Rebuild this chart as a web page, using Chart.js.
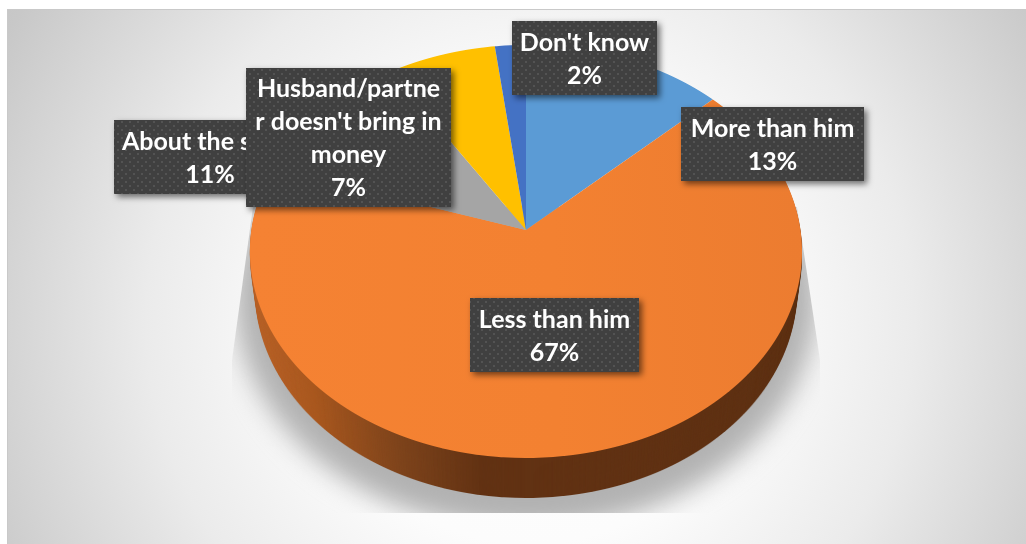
<!DOCTYPE html>
<html lang="en">
<head>
  <meta charset="UTF-8" />
  <title>Earnings compared with husband or partner</title>
  <script src="https://cdn.jsdelivr.net/npm/chart.js"></script>
  <style>
    html, body { margin: 0; padding: 0; background: #fff; }
    canvas { display: block; }
  </style>
</head>
<body>
  <canvas id="pieChart" width="1026" height="544"></canvas>

  <script>
    const categories = ["More than him", "Less than him", "About the same", "Husband/partner doesn't bring in money", "Don't know"];
    const percentages = [13, 67, 11, 7, 2];
    const sliceColors = ["#5b9bd5", "#ed7d31", "#a5a5a5", "#ffc000", "#4472c4"];

    // wrapped text of each label, broken the way the boxes break it
    const labelLines = [
      ["More than him"],
      ["Less than him"],
      ["About the same"],
      ["Husband/partne", "r doesn't bring in", "money"],
      ["Don't know"],
    ];
    // label boxes as [left, top, right, bottom], and the order they stack in
    const labelBoxes = [
      [681, 107, 864, 181],
      [470, 298, 639, 372],
      [114, 120, 306, 194],
      [246, 68, 451, 207],
      [512, 21, 657, 95],
    ];
    const labelOrder = [0, 1, 2, 3, 4];

    // tilted disc: where the apex and the rim end up on the page
    const apexX = 526, apexY = 230;
    const discTop = 185, discBottom = 228, discHalfWidth = 276, rimDepth = 40;
    const persp = (discTop - discBottom) / (discTop + discBottom);
    const perspA = discTop * (1 - persp);
    const perspR = discHalfWidth * Math.sqrt(1 - persp * persp);

    // draws the library's arcs row by row, each row with its own scale, to get the perspective
    function drawProjected(ctx, arcs, fills) {
      const r0 = arcs[0].outerRadius, cx0 = arcs[0].x, cy0 = arcs[0].y;
      for (let row = apexY - discTop - 1; row <= apexY + discBottom + 1; row++) {
        const rel = row + 0.5 - apexY;
        const y = rel / (perspA - persp * rel);
        if (Math.abs(y) > 1.01) continue;
        const denom = 1 + persp * y;
        const sx = perspR / denom / r0;
        const sy = perspA / (denom * denom) / r0;
        ctx.save();
        ctx.beginPath();
        ctx.rect(0, row, ctx.canvas.width, 1);
        ctx.clip();
        ctx.setTransform(sx, 0, 0, sy, apexX - sx * cx0, row + 0.5 - sy * (cy0 + y * r0));
        arcs.forEach((arc, i) => {
          const saved = arc.options;
          if (fills && fills[i]) arc.options = Object.assign(Object.create(saved), { backgroundColor: fills[i] });
          arc.draw(ctx);
          arc.options = saved;
        });
        ctx.restore();
      }
    }

    function sourceGradient(ctx, arc, stops) {
      const g = ctx.createLinearGradient(arc.x - arc.outerRadius, 0, arc.x + arc.outerRadius, 0);
      stops.forEach(([at, color]) => g.addColorStop(at, color));
      return g;
    }

    function drawPanel(chart) {
      const ctx = chart.ctx, w = chart.width, h = chart.height;
      ctx.save();
      ctx.fillStyle = "#fff";
      ctx.fillRect(0, 0, w, h);
      const g = ctx.createRadialGradient(530, 320, 0, 530, 320, 640);
      g.addColorStop(0, "#ffffff");
      g.addColorStop(0.35, "#fcfcfc");
      g.addColorStop(0.6, "#ebebeb");
      g.addColorStop(0.93, "#c8c8c8");
      g.addColorStop(1, "#c4c4c4");
      ctx.fillStyle = g;
      ctx.fillRect(7, 9, w - 7, h - 9);
      ctx.fillStyle = "#c9c9c9";
      ctx.fillRect(7, 9, w - 7, 1);
      ctx.fillRect(7, 9, 1, h - 9);
      ctx.restore();
    }

    function drawGroundShadow(ctx) {
      ctx.save();
      ctx.beginPath();
      ctx.moveTo(apexX - 273, 207);
      ctx.lineTo(apexX - 294, 360);
      ctx.lineTo(apexX - 294, 513);
      ctx.lineTo(apexX + 294, 513);
      ctx.lineTo(apexX + 294, 360);
      ctx.lineTo(apexX + 271, 207);
      ctx.closePath();
      ctx.clip();
      ctx.filter = "blur(13px)";
      ctx.fillStyle = "#b2b2b2";
      ctx.beginPath();
      ctx.ellipse(apexX, 298, 291, 232, 0, 0, Math.PI * 2);
      ctx.fill();
      ctx.restore();
    }

    function drawRim(chart, arcs) {
      const off = document.createElement("canvas");
      off.width = chart.width;
      off.height = chart.height;
      const offCtx = off.getContext("2d");
      const orange = arcs[1];
      const rimFill = sourceGradient(offCtx, orange, [
        [0, "#bb642a"], [0.14, "#a9581f"], [0.29, "#7e441c"], [0.43, "#623213"], [1, "#5e3113"],
      ]);
      drawProjected(offCtx, [orange], [rimFill]);
      const ctx = chart.ctx;
      for (let d = rimDepth; d >= 1; d--) {
        const s = 1 - d * 0.0005;
        ctx.drawImage(off, apexX - apexX * s, d, chart.width * s, chart.height);
      }
    }

    function dotPattern(ctx) {
      const cell = document.createElement("canvas");
      cell.width = 8;
      cell.height = 8;
      const c = cell.getContext("2d");
      c.fillStyle = "#404040";
      c.fillRect(0, 0, 8, 8);
      c.fillStyle = "#535353";
      c.fillRect(1, 1, 2, 2);
      c.fillRect(5, 5, 2, 2);
      return ctx.createPattern(cell, "repeat");
    }

    function drawLabels(ctx) {
      const pattern = dotPattern(ctx);
      ctx.save();
      ctx.textAlign = "center";
      ctx.textBaseline = "middle";
      ctx.font = "bold 25px Lato, 'Open Sans', sans-serif";
      labelOrder.forEach((i) => {
        const [l, t, r, b] = labelBoxes[i];
        ctx.save();
        ctx.shadowColor = "rgba(0,0,0,0.55)";
        ctx.shadowBlur = 6;
        ctx.shadowOffsetX = 3;
        ctx.shadowOffsetY = 3;
        ctx.fillStyle = pattern;
        ctx.fillRect(l, t, r - l, b - t);
        ctx.restore();
        const lines = labelLines[i].concat(percentages[i] + "%");
        const step = 33;
        const mid = (t + b) / 2;
        ctx.fillStyle = "#fff";
        lines.forEach((line, n) => {
          ctx.fillText(line, (l + r) / 2, mid + (n - (lines.length - 1) / 2) * step + 1);
        });
      });
      ctx.restore();
    }

    const tiltedPie = {
      id: "tiltedPie",
      beforeDraw(chart) {
        drawPanel(chart);
      },
      beforeDatasetsDraw(chart) {
        const ctx = chart.ctx;
        const arcs = chart.getDatasetMeta(0).data;
        drawGroundShadow(ctx);
        drawRim(chart, arcs);
        const faceFill = sourceGradient(ctx, arcs[1], [[0, "#f58233"], [0.55, "#f38131"], [1, "#ec7c30"]]);
        drawProjected(ctx, arcs, [null, faceFill]);
        drawLabels(ctx);
        return false; // the arcs are already on the canvas
      },
    };

    new Chart(document.getElementById("pieChart"), {
      type: "pie",
      data: {
        labels: categories,
        datasets: [{ data: percentages, backgroundColor: sliceColors, borderWidth: 0 }],
      },
      options: {
        responsive: false,
        devicePixelRatio: 1,
        animation: false,
        plugins: { legend: { display: false }, tooltip: { enabled: false } },
      },
      plugins: [tiltedPie],
    });
  </script>
</body>
</html>
